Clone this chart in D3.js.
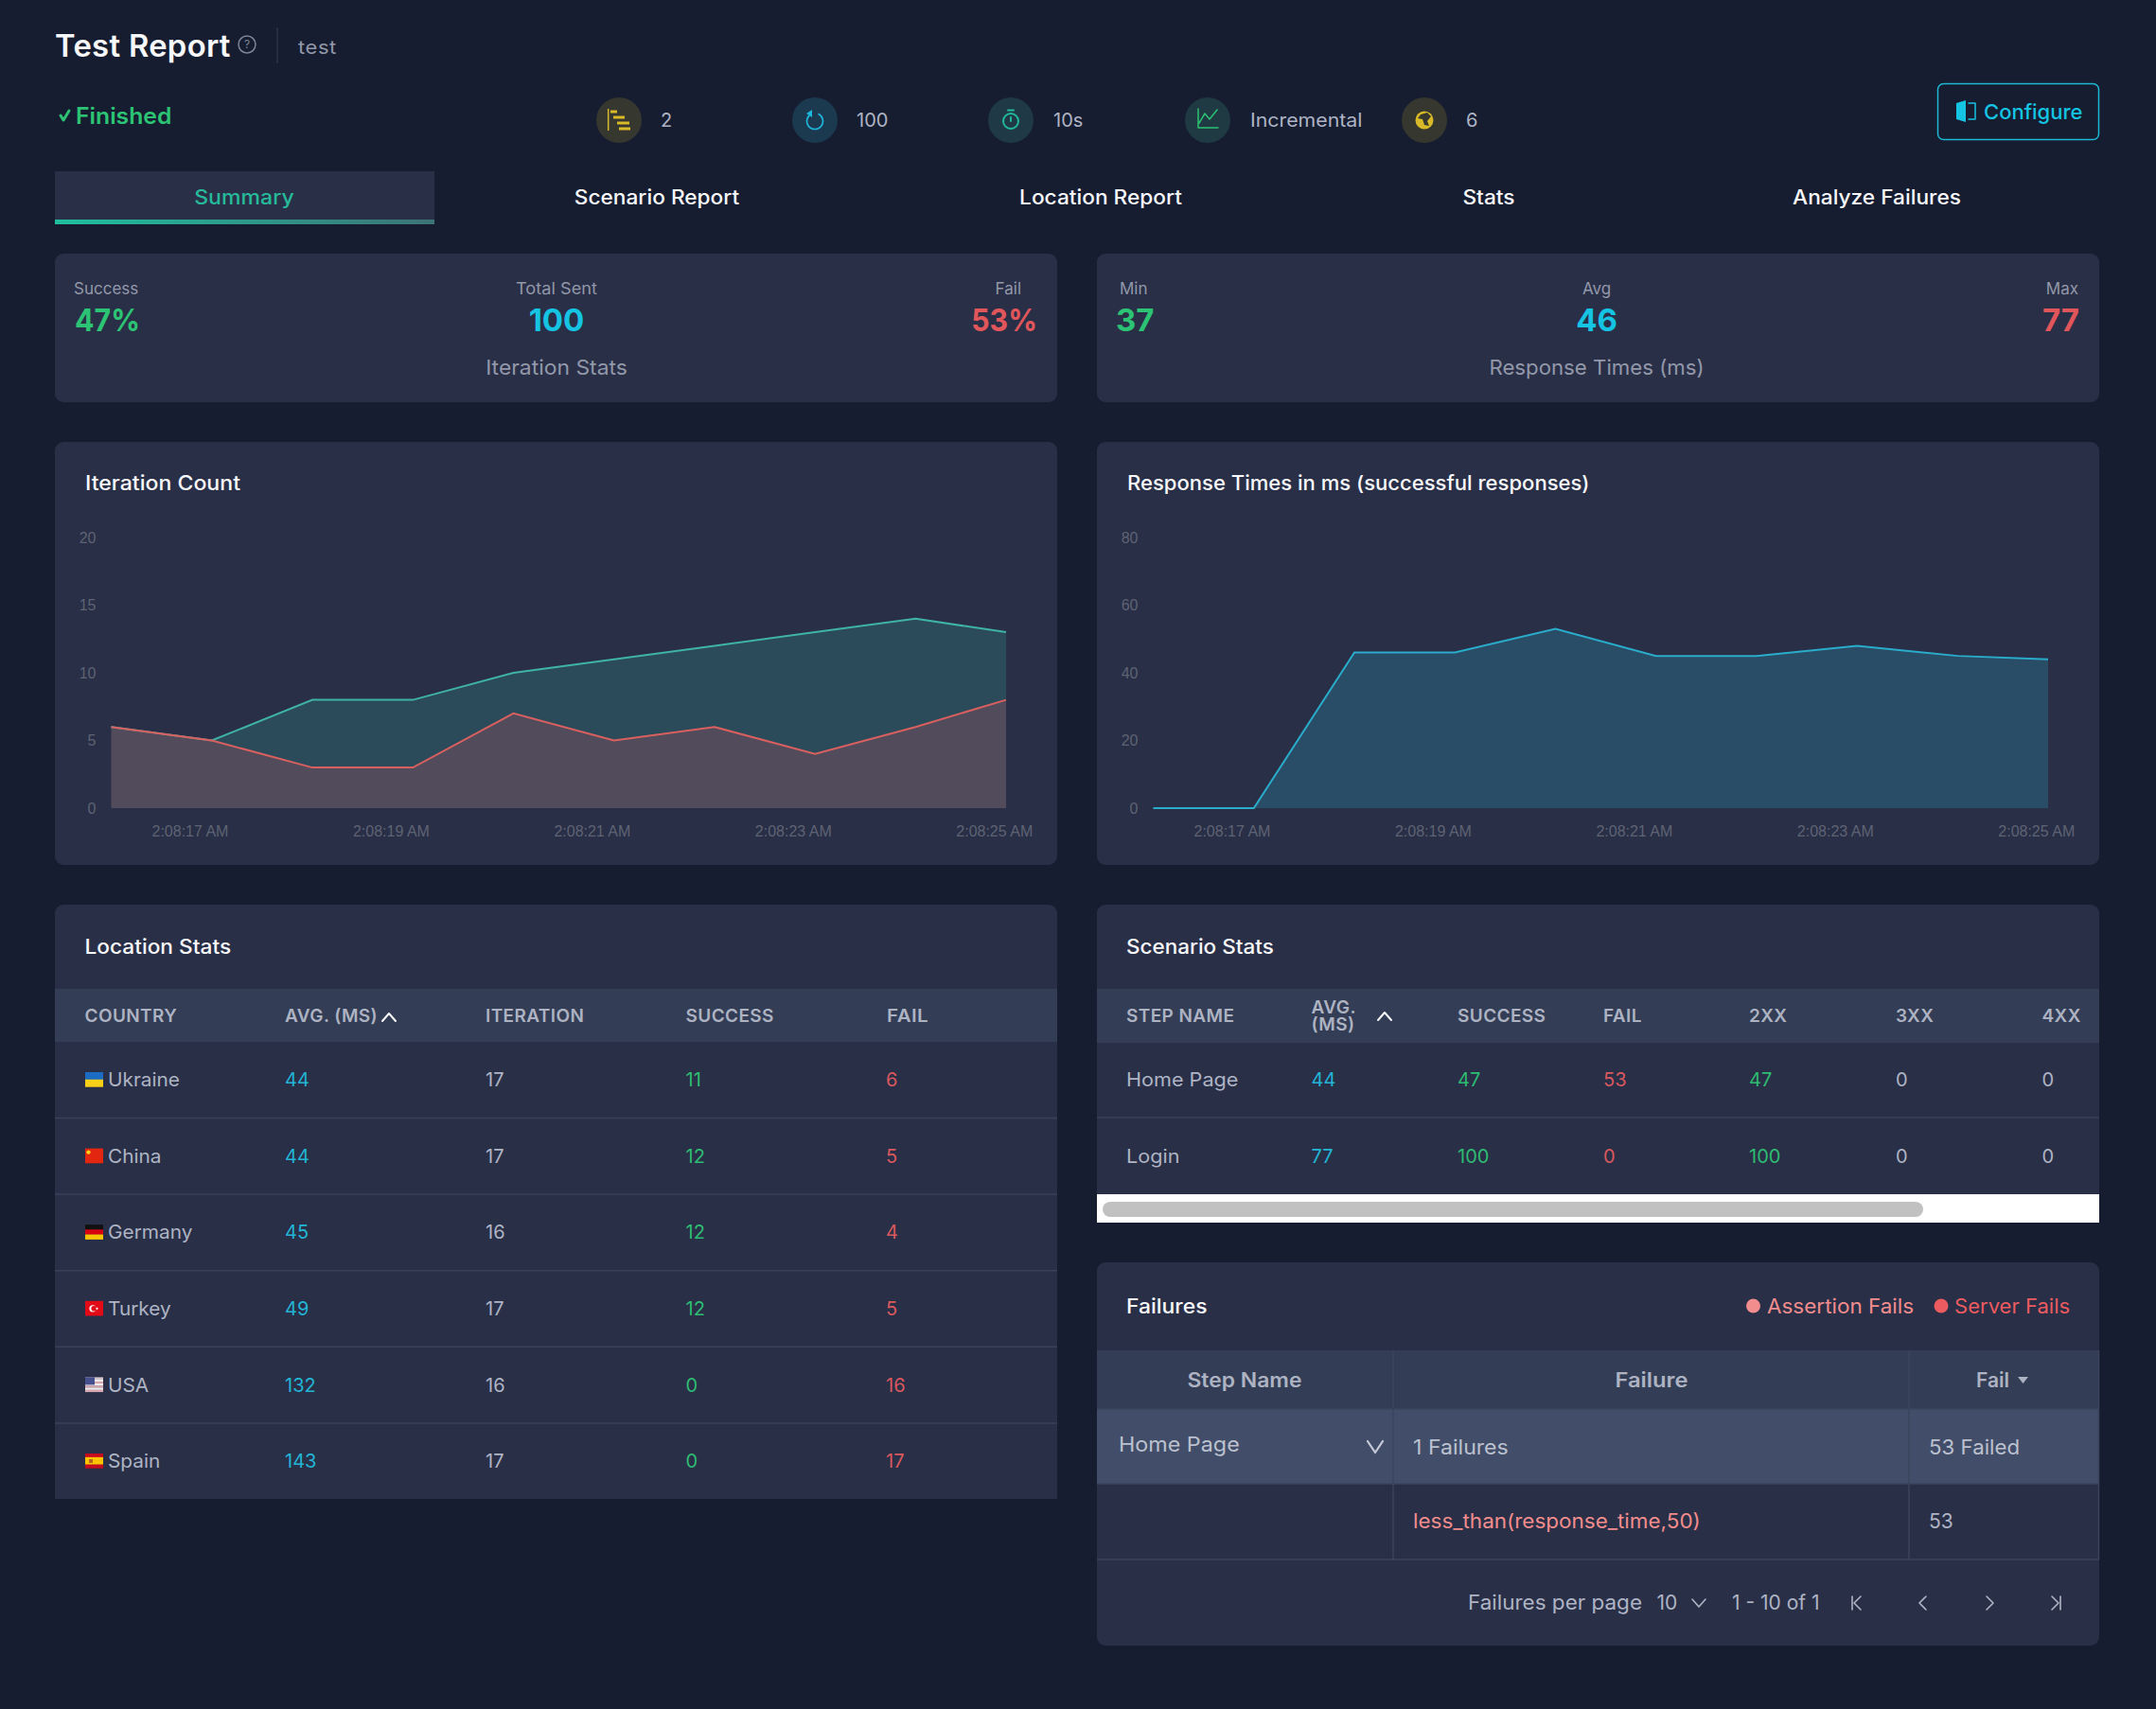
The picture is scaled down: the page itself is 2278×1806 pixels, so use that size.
<!DOCTYPE html>
<html>
<head>
<meta charset="utf-8">
<script src="https://cdn.jsdelivr.net/npm/d3@7"></script>
<style>
  html, body { margin: 0; background: #161d30; }
  svg { display: block; }
  text { font-family: Inter, "Open Sans", sans-serif; }
</style>
</head>
<body>
<svg></svg>
<script>
// Test report dashboard
//General constants
const SVG = d3.select('svg').attr('width', 2278).attr('height', 1806);
const BG = '#161d30', PANEL = '#292f47', BAND = '#333d55', LINE = '#39425a';
const GREEN = '#2cc374', CYAN = '#14c4e2', RED = '#e0565b', SOFT = '#aeb4c4', MUTED = '#9298a9', WHITE = '#f7f8fa';

//Data
const iterationData = [
  {s: 16.22, total: 6, fail: 6}, {s: 17.22, total: 5, fail: 5}, {s: 18.22, total: 8, fail: 3},
  {s: 19.22, total: 8, fail: 3}, {s: 20.22, total: 10, fail: 7}, {s: 21.22, total: 11, fail: 5},
  {s: 22.22, total: 12, fail: 6}, {s: 23.22, total: 13, fail: 4}, {s: 24.22, total: 14, fail: 6},
  {s: 25.12, total: 13, fail: 8}
];
const responseData = [
  {s: 16.22, ms: 0}, {s: 17.22, ms: 0}, {s: 18.22, ms: 46}, {s: 19.22, ms: 46}, {s: 20.22, ms: 53},
  {s: 21.22, ms: 45}, {s: 22.22, ms: 45}, {s: 23.22, ms: 48}, {s: 24.22, ms: 45}, {s: 25.12, ms: 44}
];
const locationData = [
  {country: 'Ukraine', avg: 44, iteration: 17, success: 11, fail: 6},
  {country: 'China', avg: 44, iteration: 17, success: 12, fail: 5},
  {country: 'Germany', avg: 45, iteration: 16, success: 12, fail: 4},
  {country: 'Turkey', avg: 49, iteration: 17, success: 12, fail: 5},
  {country: 'USA', avg: 132, iteration: 16, success: 0, fail: 16},
  {country: 'Spain', avg: 143, iteration: 17, success: 0, fail: 17}
];
const scenarioData = [
  {step: 'Home Page', avg: 44, success: 47, fail: 53, c2: 47, c3: 0, c4: 0},
  {step: 'Login', avg: 77, success: 100, fail: 0, c2: 100, c3: 0, c4: 0}
];

//Helpers
// o.k widens the text by that factor, the installed fonts run narrower than the original one
function label(x, y, str, o = {}) {
  const t = (o.g || SVG).append('text')
    .attr('x', x).attr('y', y).attr('dy', '.36em')
    .attr('text-anchor', o.a || 'start')
    .attr('fill', o.c || SOFT)
    .attr('font-size', o.s || 20)
    .attr('font-weight', o.w || 400)
    .attr('letter-spacing', o.ls || 0)
    .text(str);
  if (o.k) t.attr('textLength', t.node().getComputedTextLength() * o.k).attr('lengthAdjust', 'spacingAndGlyphs');
  return t;
}
function panel(x, y, w, h, squareBottom) {
  SVG.append('rect').attr('x', x).attr('y', y).attr('width', w).attr('height', h).attr('rx', 9).attr('fill', PANEL);
  if (squareBottom) SVG.append('rect').attr('x', x).attr('y', y + 20).attr('width', w).attr('height', h - 20).attr('fill', PANEL);
}
function stroke(d, c, w = 2) {
  return SVG.append('path').attr('d', d).attr('fill', 'none').attr('stroke', c).attr('stroke-width', w)
    .attr('stroke-linecap', 'round').attr('stroke-linejoin', 'round');
}
function bar(x1, y, x2, c, w = 3) {
  SVG.append('line').attr('x1', x1).attr('x2', x2).attr('y1', y).attr('y2', y).attr('stroke', c).attr('stroke-width', w);
}

//Header
label(58, 48, 'Test Report', {s: 32, w: 600, c: WHITE, ls: .3, k: 1.025});
SVG.append('circle').attr('cx', 261).attr('cy', 47).attr('r', 9).attr('fill', 'none').attr('stroke', '#7f8597').attr('stroke-width', 1.5);
label(261, 47, '?', {a: 'middle', s: 12, c: '#7f8597'});
SVG.append('line').attr('x1', 293).attr('x2', 293).attr('y1', 29).attr('y2', 67).attr('stroke', '#363d52');
label(315, 50, 'test', {c: MUTED, s: 20, ls: .5, k: 1.1});

stroke('M64 122 L67 127 L73 117', GREEN, 3);
label(80, 122, 'Finished', {c: GREEN, s: 24, w: 600, k: 1.03});

//Meta icons with their values
const META = [
  {cx: 654, bg: '#36372f', t: '2', tx: 698},
  {cx: 861, bg: '#1b3a50', t: '100', tx: 905},
  {cx: 1068, bg: '#1f3a46', t: '10s', tx: 1113},
  {cx: 1276, bg: '#1f3a42', t: 'Incremental', tx: 1321, k: 1.065},
  {cx: 1505, bg: '#36372f', t: '6', tx: 1549}
];
META.forEach(m => {
  SVG.append('circle').attr('cx', m.cx).attr('cy', 127).attr('r', 24).attr('fill', m.bg);
  label(m.tx, 127, m.t, {s: 20, k: m.k});
});
const YELLOW = '#d8b927', TEAL = '#22b8a0';
SVG.append('line').attr('x1', 642.7).attr('x2', 642.7).attr('y1', 115).attr('y2', 138).attr('stroke', YELLOW).attr('stroke-width', 1.5);
[[645, 118, 652], [648, 124, 660], [652, 130, 665], [654, 136, 666]].forEach(b => bar(b[0], b[1], b[2], YELLOW));
stroke('M857 120.5 A8.5 8.5 0 1 0 865 120.5', '#1fb6dc', 1.6);
SVG.append('path').attr('d', 'M858 116 L858 124 L852 120 Z').attr('fill', '#1fb6dc');
SVG.append('circle').attr('cx', 1068).attr('cy', 128).attr('r', 8).attr('fill', 'none').attr('stroke', TEAL).attr('stroke-width', 2);
stroke('M1065 116.5 H1071 M1068 124 V128', TEAL, 2);
stroke('M1266 115 V135 H1287 M1267 130 L1273 120 L1278 126 L1286 116', GREEN, 1.5);
SVG.append('circle').attr('cx', 1505).attr('cy', 127).attr('r', 9.5).attr('fill', YELLOW);
SVG.append('path').attr('d', 'M1501 121 L1508 119 L1512 123 L1508 128 L1510 133 L1505 132 L1503 126 L1498 125 Z').attr('fill', '#36372f');

//Configure button
SVG.append('rect').attr('x', 2047.5).attr('y', 88.5).attr('width', 170).attr('height', 59).attr('rx', 6)
  .attr('fill', 'none').attr('stroke', '#1cb8d4').attr('stroke-width', 1.5);
SVG.append('path').attr('d', 'M2067 109 L2077 106 V129 L2067 126 Z').attr('fill', CYAN);
stroke('M2080 109 H2087 V126 H2080', CYAN, 1.5);
label(2096, 118, 'Configure', {c: CYAN, s: 22, w: 500});

//Tabs
const grad = SVG.append('defs').append('linearGradient').attr('id', 'tabLine');
grad.append('stop').attr('offset', '0%').attr('stop-color', '#1fbf9f');
grad.append('stop').attr('offset', '100%').attr('stop-color', '#3c7378');
SVG.append('rect').attr('x', 58).attr('y', 181).attr('width', 401).attr('height', 51).attr('fill', PANEL);
SVG.append('rect').attr('x', 58).attr('y', 232).attr('width', 401).attr('height', 5).attr('fill', 'url(#tabLine)');
label(258, 208, 'Summary', {a: 'middle', c: '#26b99a', s: 21, w: 500, k: 1.1});
[['Scenario Report', 694], ['Location Report', 1163], ['Stats', 1573], ['Analyze Failures', 1983]]
  .forEach(t => label(t[1], 208, t[0], {a: 'middle', c: WHITE, s: 21, w: 500, k: 1.08}));

//Stat panels
panel(58, 268, 1059, 157);
panel(1159, 268, 1059, 157);
label(78, 305, 'Success', {s: 17, c: MUTED});
label(588, 305, 'Total Sent', {s: 17, c: MUTED, a: 'middle', k: 1.07});
label(1079, 305, 'Fail', {s: 17, c: MUTED, a: 'end'});
label(79, 338, '47%', {s: 33, w: 700, c: GREEN, k: .92});
label(588, 338, '100', {s: 33, w: 700, c: CYAN, a: 'middle'});
label(1096, 338, '53%', {s: 33, w: 700, c: RED, a: 'end', k: .92});
label(588, 388, 'Iteration Stats', {s: 22, c: MUTED, a: 'middle', k: 1.04});
label(1183, 305, 'Min', {s: 17, c: MUTED});
label(1687, 305, 'Avg', {s: 17, c: MUTED, a: 'middle'});
label(2196, 305, 'Max', {s: 17, c: MUTED, a: 'end'});
label(1179, 338, '37', {s: 33, w: 700, c: GREEN});
label(1687, 338, '46', {s: 33, w: 700, c: CYAN, a: 'middle'});
label(2197, 338, '77', {s: 33, w: 700, c: RED, a: 'end'});
label(1687, 388, 'Response Times (ms)', {s: 22, c: MUTED, a: 'middle', k: 1.01});

//Chart panels
const CHART_BOTTOM = 854, CHART_TOP = 568;
const time = s => new Date(2023, 0, 1, 2, 8, 0, s * 1000);
const tickTimes = [17, 19, 21, 23, 25].map(time);
const tickFormat = d3.timeFormat('%-I:%M:%S %p');

function chartFrame(x0, x1, yMax, title, k) {
  panel(x0 - 59.5, 467, 1059, 447);
  label(x0 - 27.5, 510, title, {c: WHITE, s: 21, w: 500, k});
  const xScale = d3.scaleTime().domain([time(16.22), time(25.12)]).range([x0, x1]);
  const yScale = d3.scaleLinear().domain([0, yMax]).range([CHART_BOTTOM, CHART_TOP]);
  const xAxis = d3.axisBottom(xScale).tickValues(tickTimes).tickFormat(tickFormat).tickSize(0).tickPadding(19);
  const yAxis = d3.axisLeft(yScale).ticks(4).tickSize(0).tickPadding(16);
  [SVG.append('g').attr('transform', `translate(0, ${CHART_BOTTOM})`).call(xAxis),
   SVG.append('g').attr('transform', `translate(${x0}, 0)`).call(yAxis)].forEach(axis => {
    axis.select('.domain').remove();
    axis.selectAll('text').attr('fill', '#5e6373').attr('font-size', 16).style('font-family', '"Liberation Sans", Arial, sans-serif');
  });
  return {xScale, yScale};
}

function areaSeries(data, sc, field, fill, opacity, line) {
  const area = d3.area().x(d => sc.xScale(time(d.s))).y0(CHART_BOTTOM).y1(d => sc.yScale(d[field]));
  const path = d3.line().x(d => sc.xScale(time(d.s))).y(d => sc.yScale(d[field]));
  SVG.append('path').datum(data).attr('d', area).attr('fill', fill).attr('fill-opacity', opacity);
  SVG.append('path').datum(data).attr('d', path).attr('fill', 'none').attr('stroke', line).attr('stroke-width', 2);
}

const iterScales = chartFrame(117.5, 1063, 20, 'Iteration Count', 1.1);
areaSeries(iterationData, iterScales, 'total', '#36b0a0', .22, '#3fb3a6');
areaSeries(iterationData, iterScales, 'fail', '#ff5064', .18, '#d9605f');

const respScales = chartFrame(1218.5, 2164, 80, 'Response Times in ms (successful responses)', 1.05);
areaSeries(responseData, respScales, 'ms', '#2aa8c8', .25, '#2aaccb');

//Location stats table
panel(58, 956, 1059, 628, true);
label(89.5, 1000, 'Location Stats', {c: WHITE, s: 21, w: 500, k: 1.08});
SVG.append('rect').attr('x', 58).attr('y', 1045).attr('width', 1059).attr('height', 56).attr('fill', BAND);
const LOC_COLS = [['COUNTRY', 89.5], ['AVG. (MS)', 301], ['ITERATION', 513], ['SUCCESS', 724.5], ['FAIL', 937]];
LOC_COLS.forEach(c => label(c[1], 1073, c[0], {s: 19, w: 600, c: '#adb3c2', ls: .4, k: c[0] === 'FAIL' ? 1.08 : 1}));
stroke('M404 1079 L411 1071 L418 1079', WHITE, 2);

const rowY = d3.scalePoint().domain(d3.range(locationData.length)).range([1141, 1544]);
const locRows = SVG.selectAll('g.loc').data(locationData).enter().append('g').attr('class', 'loc');
locRows.each(function (d, i) {
  const g = d3.select(this), y = rowY(i);
  if (i < locationData.length - 1)
    g.append('line').attr('x1', 58).attr('x2', 1117).attr('y1', y + 40.5).attr('y2', y + 40.5).attr('stroke', LINE).attr('stroke-width', 1.5);
  label(114, y, d.country, {g, s: 20, c: SOFT, k: 1.04});
  label(301, y, d.avg, {g, s: 20, c: '#22b5d6'});
  label(513, y, d.iteration, {g, s: 20, c: SOFT});
  label(724.5, y, d.success, {g, s: 20, c: '#2ebc72'});
  label(936, y, d.fail, {g, s: 20, c: '#d9585d'});
});

//Flags, one stack of bands per country
const FLAGS = {
  Ukraine: ['#1c6cc4', '#f7d117'],
  China: ['#e2260f'],
  Germany: ['#111', '#d9000f', '#f6c500'],
  Turkey: ['#e30a17'],
  USA: ['#d8c8cf', '#f0eef0', '#d8a8b0', '#f0eef0', '#d8a8b0', '#f0eef0', '#d8a8b0'],
  Spain: ['#c60b1e', '#ffc400', '#ffc400', '#c60b1e']
};
locationData.forEach((d, i) => {
  const y = rowY(i) - 8, bands = FLAGS[d.country], h = 15.5 / bands.length;
  bands.forEach((c, k) => SVG.append('rect').attr('x', 90).attr('y', y + k * h).attr('width', 19).attr('height', h + .2).attr('fill', c));
  if (d.country === 'China') SVG.append('circle').attr('cx', 93.5).attr('cy', y + 4).attr('r', 2.2).attr('fill', '#f7d117');
  if (d.country === 'Turkey') {
    SVG.append('circle').attr('cx', 98).attr('cy', y + 8).attr('r', 3.6).attr('fill', '#fff');
    SVG.append('circle').attr('cx', 99.2).attr('cy', y + 8).attr('r', 2.8).attr('fill', '#e30a17');
    SVG.append('circle').attr('cx', 102.5).attr('cy', y + 8).attr('r', 1.1).attr('fill', '#fff');
  }
  if (d.country === 'USA') SVG.append('rect').attr('x', 90).attr('y', y).attr('width', 10).attr('height', 8).attr('fill', '#47508f');
  if (d.country === 'Spain') SVG.append('rect').attr('x', 94).attr('y', y + 6).attr('width', 4).attr('height', 4).attr('fill', '#b5651d');
});

//Scenario stats table
panel(1159, 956, 1059, 306, true);
label(1190, 1000, 'Scenario Stats', {c: WHITE, s: 21, w: 500, k: 1.07});
SVG.append('rect').attr('x', 1159).attr('y', 1045).attr('width', 1059).attr('height', 57).attr('fill', BAND);
const SCEN_COLS = [
  {t: 'STEP NAME', x: 1190, k: 'step', c: SOFT, wide: 1.08},
  {t: 'AVG.', x: 1385.5, k: 'avg', c: '#22b5d6'},
  {t: 'SUCCESS', x: 1540, k: 'success', c: '#2ebc72'},
  {t: 'FAIL', x: 1694, k: 'fail', c: '#d9585d'},
  {t: '2XX', x: 1848, k: 'c2', c: '#2ebc72'},
  {t: '3XX', x: 2003, k: 'c3', c: SOFT},
  {t: '4XX', x: 2157.5, k: 'c4', c: SOFT}
];
SCEN_COLS.forEach(c => {
  if (c.t === 'AVG.') {
    label(c.x, 1064, 'AVG.', {s: 19, w: 600, c: '#adb3c2', ls: .4});
    label(c.x, 1082, '(MS)', {s: 19, w: 600, c: '#adb3c2', ls: .4});
  } else label(c.x, 1073, c.t, {s: 19, w: 600, c: '#adb3c2', ls: .4});
  scenarioData.forEach((d, i) => label(c.x, i ? 1222 : 1141, d[c.k], {s: 20, c: c.c, k: c.wide}));
});
stroke('M1456 1078 L1463 1070 L1470 1078', WHITE, 2);
SVG.append('line').attr('x1', 1159).attr('x2', 2218).attr('y1', 1181).attr('y2', 1181).attr('stroke', LINE).attr('stroke-width', 1.5);
SVG.append('rect').attr('x', 1159).attr('y', 1262).attr('width', 1059).attr('height', 30).attr('fill', '#fff');
SVG.append('rect').attr('x', 1165).attr('y', 1270).attr('width', 867).attr('height', 16).attr('rx', 8).attr('fill', '#c1c1c1');

//Failures table
panel(1159, 1334, 1059, 405);
label(1190, 1380, 'Failures', {c: WHITE, s: 21, w: 500, k: 1.09});
SVG.append('circle').attr('cx', 1852.5).attr('cy', 1380).attr('r', 7.5).attr('fill', '#f28d8d');
label(1867, 1380, 'Assertion Fails', {s: 21, c: '#f28d8d', k: 1.07});
SVG.append('circle').attr('cx', 2051).attr('cy', 1380).attr('r', 7.5).attr('fill', '#ec5b5f');
label(2065, 1380, 'Server Fails', {s: 21, c: '#ec5b5f', k: 1.05});

SVG.append('rect').attr('x', 1159).attr('y', 1427).attr('width', 1059).attr('height', 62).attr('fill', BAND);
SVG.append('rect').attr('x', 1159).attr('y', 1489).attr('width', 1059).attr('height', 79).attr('fill', '#424e69');
[1472, 2017, 2217.5].forEach(x => SVG.append('line').attr('x1', x).attr('x2', x).attr('y1', 1427).attr('y2', 1648).attr('stroke', '#3b445c').attr('stroke-width', 1.5));
[1489, 1568, 1648].forEach(y => SVG.append('line').attr('x1', 1159).attr('x2', 2218).attr('y1', y).attr('y2', y).attr('stroke', '#3b445c').attr('stroke-width', 1.5));
label(1315, 1458, 'Step Name', {a: 'middle', s: 21, w: 600, c: '#adb3c2', k: 1.09});
label(1745, 1458, 'Failure', {a: 'middle', s: 21, w: 600, c: '#adb3c2', k: 1.13});
label(2088, 1458, 'Fail', {s: 21, w: 600, c: '#adb3c2'});
SVG.append('path').attr('d', 'M2132 1455 H2143 L2137.5 1462 Z').attr('fill', '#adb3c2');
label(1182, 1526, 'Home Page', {s: 21, c: '#bcc1cf', k: 1.11});
stroke('M1445 1523 L1453 1535 L1461 1523', '#c6cad6', 2.2);
label(1493, 1529, '1 Failures', {s: 21, c: '#bcc1cf', k: 1.1});
label(2038, 1529, '53 Failed', {s: 21, c: '#bcc1cf', k: 1.06});
label(1493, 1607, 'less_than(response_time,50)', {s: 21, c: '#f28d8d', k: 1.07});
label(2038, 1607, '53', {s: 21, c: SOFT});

label(1551, 1693, 'Failures per page', {s: 21, c: SOFT, k: 1.07});
label(1750.5, 1693, '10', {s: 21, c: SOFT});
stroke('M1788 1690 L1795 1698 L1802 1690', SOFT, 1.6);
label(1830, 1693, '1 - 10 of 1', {s: 21, c: SOFT});
stroke('M1957 1687 V1701 M1966 1687 L1959 1694 L1966 1701', SOFT, 1.6);
stroke('M2035 1687 L2028 1694 L2035 1701', SOFT, 1.6);
stroke('M2099 1687 L2106 1694 L2099 1701', SOFT, 1.6);
stroke('M2168 1687 L2175 1694 L2168 1701 M2177 1687 V1701', SOFT, 1.6);
</script>
</body>
</html>
